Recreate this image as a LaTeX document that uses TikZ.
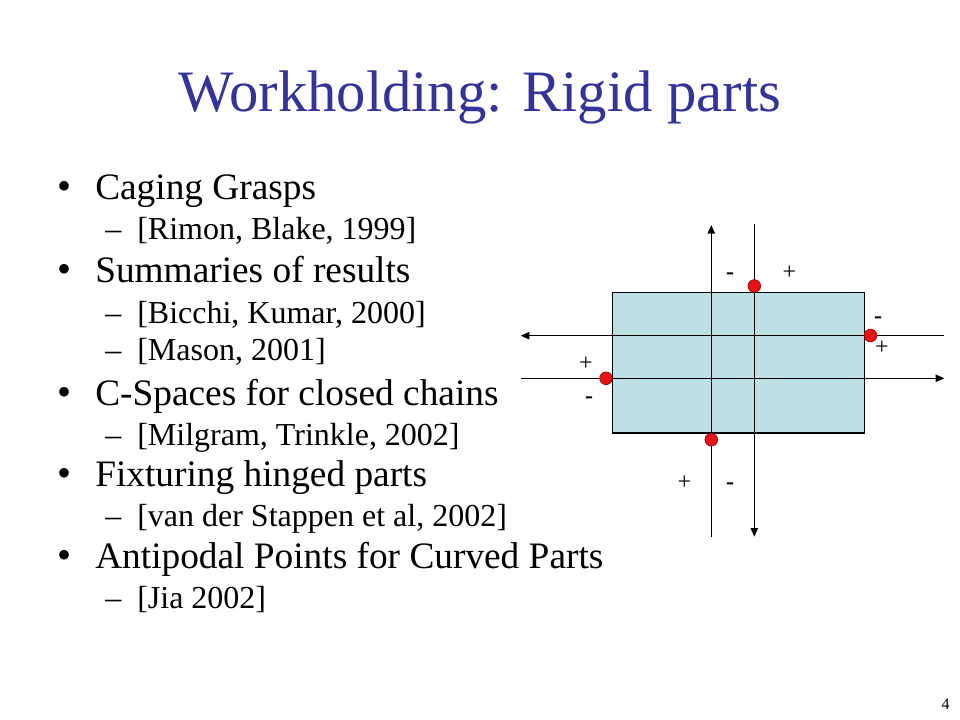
\documentclass[tikz,border=0pt]{standalone}
\usepackage{fontspec}
\setmainfont{Liberation Serif}
\usetikzlibrary{arrows.meta}
\definecolor{titleblue}{RGB}{51,51,153}
\definecolor{partfill}{RGB}{188,224,228}
\definecolor{dotred}{RGB}{230,20,20}
\begin{document}
\begin{tikzpicture}[x=0.75pt,y=-0.75pt,
  titletext/.style={anchor=base,inner sep=0pt,font=\fontsize{44}{50}\selectfont,text=titleblue},
  mainitem/.style={anchor=base west,inner sep=0pt,font=\fontsize{28}{32}\selectfont},
  subitem/.style={anchor=base west,inner sep=0pt,font=\fontsize{24}{28}\selectfont},
  bulletmark/.style={anchor=base,inner sep=0pt,font=\fontsize{30}{32}\selectfont},
  sign/.style={inner sep=0pt,font=\fontsize{18}{20}\selectfont},
  minussign/.style={inner sep=0pt,anchor=base,font=\fontsize{18}{20}\selectfont\bfseries},
  axisline/.style={line width=1pt,-{Triangle[length=6.5pt,width=5.5pt]}},
  contact/.style={circle,fill=dotred,draw=red!60!black,line width=0.5pt,minimum size=9.5pt,inner sep=0pt},
  partbox/.style={fill=partfill,draw=black,line width=1pt}]
\useasboundingbox (0,0) rectangle (960,720);
\fill[white] (0,0) rectangle (960,720);

% title
\node[titletext] (title) at (480,112) {Workholding: Rigid parts};

% bullets
\node[bulletmark] (b1) at (65,200) {•};
\node[mainitem] (t1) at (95,200) {Caging Grasps};
\node[subitem] (d1) at (105,240) {–};
\node[subitem] (s1) at (137,240) {[Rimon, Blake, 1999]};

\node[bulletmark] (b2) at (65,282.7) {•};
\node[mainitem] (t2) at (95,282.7) {Summaries of results};
\node[subitem] (d2) at (105,323.3) {–};
\node[subitem] (s2) at (137,323.3) {[Bicchi, Kumar, 2000]};
\node[subitem] (d3) at (105,360) {–};
\node[subitem] (s3) at (137,360) {[Mason, 2001]};

\node[bulletmark] (b3) at (65,405) {•};
\node[mainitem] (t3) at (95,405) {C-Spaces for closed chains};
\node[subitem] (d4) at (105,445) {–};
\node[subitem] (s4) at (137,445) {[Milgram, Trinkle, 2002]};

\node[bulletmark] (b4) at (65,486.7) {•};
\node[mainitem] (t4) at (95,486.7) {Fixturing hinged parts};
\node[subitem] (d5) at (105,526.7) {–};
\node[subitem] (s5) at (137,526.7) {[van der Stappen et al, 2002]};

\node[bulletmark] (b5) at (65,568.3) {•};
\node[mainitem] (t5) at (95,568.3) {Antipodal Points for Curved Parts};
\node[subitem] (d6) at (105,608.3) {–};
\node[subitem] (s6) at (137,608.3) {[Jia 2002]};

% page number
\node[anchor=base,inner sep=0pt,font=\fontsize{12}{14}\selectfont] (pg) at (945.5,709) {4};

% part
\draw[partbox] (612.3,292.3) rectangle (864.3,433);

% axis end points
\coordinate (v1s) at (711.3,536.7);
\coordinate (v1e) at (711.3,225);
\coordinate (v2s) at (754.3,224.3);
\coordinate (v2e) at (754.3,536.7);
\coordinate (h1s) at (944.3,335.7);
\coordinate (h1e) at (520.7,335.7);
\coordinate (h2s) at (520.7,378.3);
\coordinate (h2e) at (944.3,378.3);

\draw[axisline] (v1s) -- (v1e);
\draw[axisline] (v2s) -- (v2e);
\draw[axisline] (h1s) -- (h1e);
\draw[axisline] (h2s) -- (h2e);

% contacts
\node[contact] (ctop) at (754.3,286) {};
\node[contact] (cright) at (870.5,335.5) {};
\node[contact] (cleft) at (606,378.3) {};
\node[contact] (cbot) at (711.3,439.7) {};

% signs
\node[minussign] (m1) at (730,279.8) {-};
\node[sign] (p1) at (789.3,272.3) {+};
\node[minussign] (m2) at (878,323.2) {-};
\node[sign] (p2) at (882,347.3) {+};
\node[sign] (p3) at (586,364) {+};
\node[minussign] (m3) at (589,403.2) {-};
\node[sign] (p4) at (684.3,482.3) {+};
\node[minussign] (m4) at (730,489.2) {-};
\end{tikzpicture}
\end{document}
